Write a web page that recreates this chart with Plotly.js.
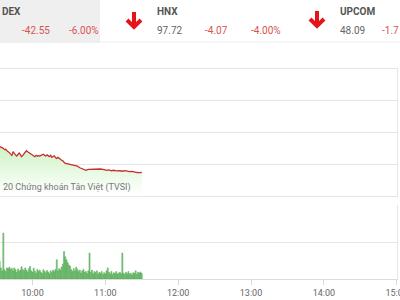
<!DOCTYPE html>
<html>
<head>
<meta charset="utf-8">
<script src="https://cdn.plot.ly/plotly-3.0.1.min.js"></script>
<style>html,body{margin:0;padding:0;background:#fff;}#chart{width:400px;height:300px;}</style>
</head>
<body>
<div id="chart"></div>
<script>
// ---- data ----
const day = '2020-03-12 ';
const priceTimes = ['09:33','09:34','09:35','09:36','09:37','09:38','09:39','09:40','09:41','09:42','09:43','09:44','09:45','09:46','09:47','09:48','09:49','09:50','09:51','09:52','09:53','09:54','09:55','09:56','09:57','09:58','09:59','10:00','10:01','10:02','10:03','10:04','10:05','10:06','10:07','10:08','10:09','10:10','10:11','10:12','10:13','10:14','10:15','10:16','10:17','10:18','10:19','10:20','10:21','10:22','10:23','10:24','10:25','10:26','10:27','10:29','10:31','10:33','10:35','10:37','10:39','10:41','10:43','10:44','10:46','10:48','10:50','10:53','10:56','10:59','11:01','11:03','11:05','11:07','11:09','11:12','11:14','11:16','11:18','11:20','11:22','11:24','11:26','11:28','11:30'];
const priceValues = [691.1,690.8,690.3,690.0,689.2,689.4,688.5,688.0,687.3,686.4,685.6,687.9,686.5,685.9,685.2,686.2,687.1,686.0,684.8,685.6,686.6,687.6,688.5,687.9,687.5,687.1,686.2,685.8,685.2,684.8,685.6,685.0,685.4,685.2,685.6,685.9,686.3,685.6,685.2,685.9,685.4,684.8,685.6,684.4,684.9,685.3,684.1,683.7,684.3,683.4,683.1,682.5,682.2,681.2,680.6,680.3,680.0,679.8,679.1,678.8,677.8,677.3,676.4,676.2,676.8,676.9,677.0,676.9,677.0,676.6,676.1,676.4,675.9,676.2,675.8,675.9,675.6,676.0,675.4,675.3,675.5,674.9,674.8,674.7,674.8];
const volTimes = ['09:33','09:34','09:35','09:36','09:37','09:38','09:39','09:40','09:41','09:42','09:43','09:44','09:45','09:46','09:47','09:48','09:49','09:50','09:51','09:52','09:53','09:54','09:55','09:56','09:57','09:58','09:59',
'10:00','10:01','10:02','10:03','10:04','10:05','10:06','10:07','10:08','10:09','10:10','10:11','10:12','10:13','10:14','10:15','10:16','10:17','10:18','10:19','10:20','10:21','10:22','10:23','10:24','10:25','10:26','10:27','10:28','10:29','10:30','10:31','10:32','10:33','10:34','10:35','10:36','10:37','10:38','10:39','10:40','10:41','10:42','10:43','10:44','10:45','10:46','10:47','10:48','10:49','10:50','10:51','10:52','10:53','10:54','10:55','10:56','10:57','10:58','10:59',
'11:00','11:01','11:02','11:03','11:04','11:05','11:06','11:07','11:08','11:09','11:10','11:11','11:12','11:13','11:14','11:15','11:16','11:17','11:18','11:19','11:20','11:21','11:22','11:23','11:24','11:25','11:26','11:27','11:28','11:29','11:30'];
const volValues = [0.48,0.30,0.22,1.24,0.25,0.20,0.30,0.28,0.32,0.26,0.29,0.22,0.30,0.25,0.18,0.27,0.21,0.24,0.33,0.26,0.22,0.30,0.24,0.19,0.28,0.34,0.22,
0.18,0.29,0.21,0.16,0.26,0.20,0.24,0.18,0.15,0.25,0.21,0.17,0.23,0.19,0.14,0.22,0.18,0.24,0.20,0.26,0.52,0.22,0.28,0.24,0.32,0.40,0.74,0.60,0.52,0.44,0.38,0.34,0.25,0.20,0.28,0.22,0.32,0.26,0.20,0.24,0.16,0.22,0.26,0.18,0.20,0.15,0.22,0.70,0.18,0.24,0.14,0.20,0.17,0.22,0.13,0.18,0.15,0.20,0.12,0.17,
0.14,0.22,0.30,0.18,0.14,0.20,0.12,0.17,0.15,0.20,0.13,0.16,0.18,0.14,0.70,0.16,0.12,0.18,0.14,0.20,0.13,0.16,0.11,0.17,0.15,0.22,0.13,0.18,0.16,0.19,0.15];
const hourTicks = ['10:00','11:00','12:00','13:00','14:00','15:00'];
const indexNames = ['DEX','HNX','UPCOM'];
const indexValues = ['', '97.72', '48.09'];
const indexChanges = ['-42.55','-4.07','-1.7'];
const indexPercents = ['-6.00%','-4.00%',''];
const watermark = '20 Chứng khoán Tân Việt (TVSI)';

// ---- helpers ----
const W = 400, H = 300;
const px = x => x / W;
const py = y => 1 - y / H;

const xRange = [day + '09:33:15', day + '15:00:15'];
const gridC = '#e6e6e6';

const traces = [
  {
    type: 'scatter', mode: 'lines',
    x: priceTimes.map(t => day + t), y: priceValues,
    line: {color: '#c62f2f', width: 1.3},
    fill: 'tozeroy',
    fillgradient: {type: 'vertical', start: 660, stop: 691,
      colorscale: [[0, 'rgba(255,255,255,1)'], [1, 'rgba(205,243,196,1)']]},
    xaxis: 'x', yaxis: 'y', hoverinfo: 'skip'
  },
  {
    type: 'bar',
    x: volTimes.map(t => day + t), y: volValues,
    width: 50000,
    marker: {color: '#86cf86', line: {color: '#459f45', width: 0.5}},
    xaxis: 'x2', yaxis: 'y2', hoverinfo: 'skip'
  }
];

const ann = [];
const headFont = {family: 'Roboto, sans-serif', size: 10};
const cols = [0, 155, 338];
const changeX = [20, 203, 380];
const pctX = [67, 249, 0];
for (let i = 0; i < 3; i++) {
  ann.push({xref: 'paper', yref: 'paper', x: px(cols[i]), y: py(11.5), xanchor: 'left', yanchor: 'middle', showarrow: false,
    text: '<b>' + indexNames[i] + '</b>', font: Object.assign({}, headFont, {color: '#555', size: 10})});
  if (indexValues[i]) ann.push({xref: 'paper', yref: 'paper', x: px(cols[i]), y: py(31), xanchor: 'left', yanchor: 'middle', showarrow: false,
    text: indexValues[i], font: Object.assign({}, headFont, {color: '#666'})});
  ann.push({xref: 'paper', yref: 'paper', x: px(changeX[i]), y: py(31), xanchor: 'left', yanchor: 'middle', showarrow: false,
    text: indexChanges[i], font: Object.assign({}, headFont, {color: '#d9534f'})});
  if (indexPercents[i]) ann.push({xref: 'paper', yref: 'paper', x: px(pctX[i]), y: py(31), xanchor: 'left', yanchor: 'middle', showarrow: false,
    text: indexPercents[i], font: Object.assign({}, headFont, {color: '#d9534f'})});
}
ann.push({xref: 'paper', yref: 'paper', x: px(1), y: py(187.5), xanchor: 'left', yanchor: 'middle', showarrow: false,
  text: watermark, font: {family: 'Roboto, sans-serif', size: 9, color: '#777'}});

function arrowPath(cx, top, bot) {
  return 'M' + px(cx) + ',' + py(top) + ' L' + px(cx) + ',' + py(bot - 1) +
         ' M' + px(cx - 7) + ',' + py(bot - 7) + ' L' + px(cx) + ',' + py(bot) + ' L' + px(cx + 7) + ',' + py(bot - 7);
}

const shapes = [
  {type: 'rect', xref: 'paper', yref: 'paper', x0: 0, x1: px(100), y0: py(43), y1: 1, fillcolor: '#efefef', line: {width: 0}, layer: 'below'},
  {type: 'line', xref: 'paper', yref: 'paper', x0: px(100), x1: 1, y0: py(42), y1: py(42), line: {color: '#efefef', width: 1}},
  {type: 'path', xref: 'paper', yref: 'paper', path: arrowPath(134, 12, 27), line: {color: '#e5141b', width: 4}},
  {type: 'path', xref: 'paper', yref: 'paper', path: arrowPath(317, 11, 26), line: {color: '#e5141b', width: 4}}
];

const layout = {
  width: W, height: H,
  margin: {l: 0, r: 0, t: 0, b: 0},
  paper_bgcolor: '#fff', plot_bgcolor: '#fff',
  showlegend: false,
  font: {family: 'Roboto, sans-serif', color: '#666'},
  xaxis: {domain: [0, px(397)], type: 'date', range: xRange, anchor: 'y',
    showticklabels: false, showgrid: false, zeroline: false, ticks: '',
    showline: true, mirror: true, linecolor: gridC, linewidth: 1},
  yaxis: {domain: [py(196), py(69)], range: [660, 740], tick0: 660, dtick: 20, anchor: 'x',
    side: 'right', showticklabels: false, gridcolor: gridC, zeroline: false, ticks: '',
    showline: true, linecolor: gridC, linewidth: 1},
  xaxis2: {domain: [0, px(397)], type: 'date', range: xRange, anchor: 'y2',
    tickvals: hourTicks.map(t => day + t), ticktext: hourTicks,
    ticks: 'outside', ticklen: 5, tickcolor: '#d8d8d8', tickfont: {size: 9, color: '#666'},
    ticklabeloverflow: 'allow',
    showgrid: false, zeroline: false, showline: true, linecolor: '#dcdcdc', automargin: false},
  yaxis2: {domain: [py(279), py(205)], range: [0, 2], dtick: 1, anchor: 'x2',
    side: 'right', showticklabels: false, gridcolor: gridC, zeroline: false, ticks: '',
    showline: true, linecolor: gridC, linewidth: 1},
  annotations: ann,
  shapes: shapes,
  bargap: 0
};

Plotly.newPlot('chart', traces, layout, {staticPlot: true, displayModeBar: false});
</script>
</body>
</html>
